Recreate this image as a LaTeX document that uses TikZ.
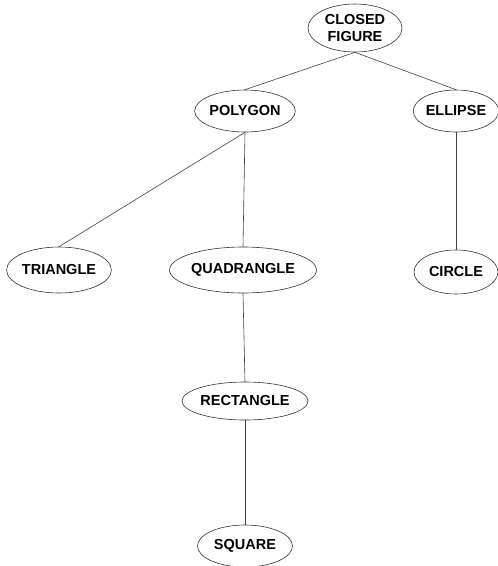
\documentclass[tikz,border=0pt]{standalone}
\usepackage{fontspec}
\setmainfont{Liberation Sans}
\usetikzlibrary{shapes.geometric}
\begin{document}
\begin{tikzpicture}[x=1pt,y=-1pt,
  oval/.style={ellipse,draw=black!80,line width=0.6pt,inner sep=0pt,font=\fontsize{14.5}{17}\bfseries\selectfont,align=center},
  link/.style={draw=black!75,line width=0.6pt}]
\useasboundingbox (0,0) rectangle (498,566);
\node[oval,minimum width=94,minimum height=48] (cf) at (355,28) {CLOSED\\FIGURE};
\node[oval,minimum width=76,minimum height=42] (poly) at (245,111) {POLYGON};
\node[oval,minimum width=82,minimum height=42] (ell) at (456,111) {ELLIPSE};
\node[oval,minimum width=93,minimum height=46] (tri) at (59,270) {TRIANGLE};
\node[oval,minimum width=126,minimum height=46] (quad) at (243,270) {QUADRANGLE};
\node[oval,minimum width=84,minimum height=44] (circ) at (456,272) {CIRCLE};
\node[oval,minimum width=116,minimum height=38] (rect) at (245,401) {RECTANGLE};
\node[oval,minimum width=95,minimum height=42] (sq) at (245,546) {SQUARE};
\draw[link] (cf.south) -- (poly.north);
\draw[link] (cf.south) -- (ell.north);
\draw[link] (poly.south) -- (tri.north);
\draw[link] (poly.south) -- (quad.north);
\draw[link] (quad.south) -- (rect.north);
\draw[link] (rect.south) -- (sq.north);
\draw[link] (ell.south) -- (circ.north);
\end{tikzpicture}
\end{document}
